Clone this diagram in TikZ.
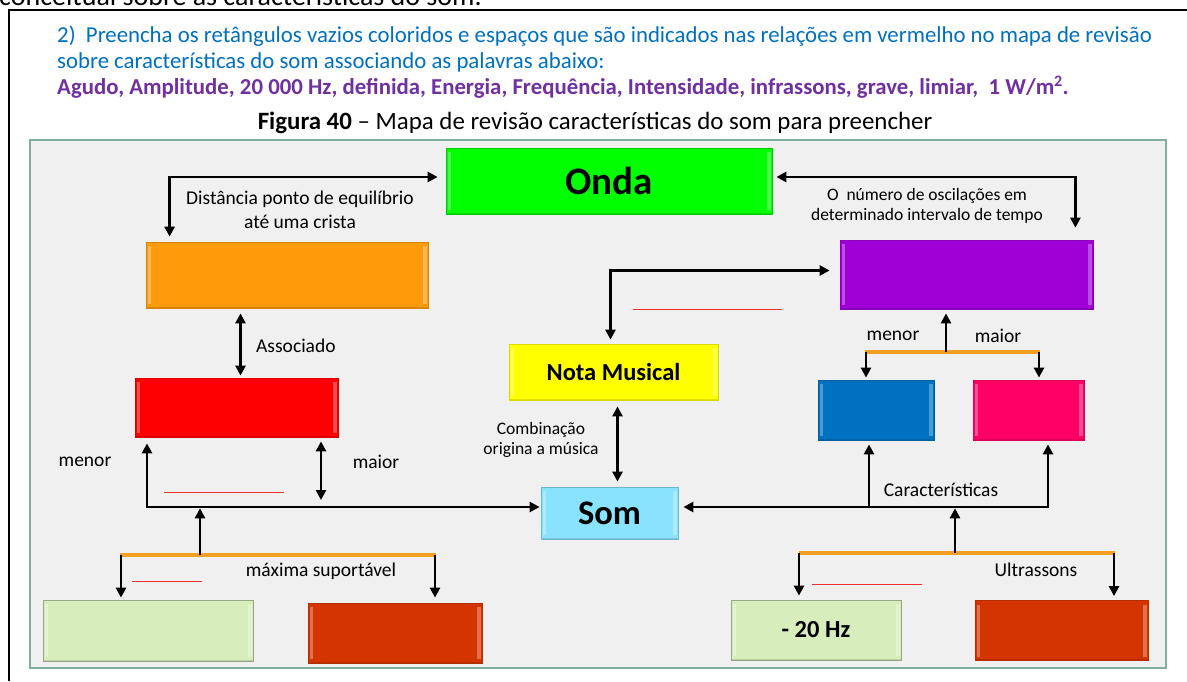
\documentclass[tikz,border=0pt]{standalone}
\usepackage{fontspec}
\setmainfont{Carlito}
\usetikzlibrary{arrows.meta}
\definecolor{hblue}{HTML}{0070C0}
\definecolor{hpurple}{HTML}{7030A0}
\definecolor{panelgray}{HTML}{F0F0F0}
\definecolor{panelborder}{HTML}{7FB09F}
\definecolor{cgreen}{HTML}{00FF00}
\definecolor{corange}{HTML}{FF9A0A}
\definecolor{cred}{HTML}{FF0000}
\definecolor{cyellow}{HTML}{FFFF00}
\definecolor{cpurple}{HTML}{9E00D6}
\definecolor{cblue}{HTML}{0070C0}
\definecolor{cpink}{HTML}{FF0066}
\definecolor{csom}{HTML}{89E3FF}
\definecolor{clgreen}{HTML}{D8EDBC}
\definecolor{cdorange}{HTML}{D43500}
\definecolor{barorange}{HTML}{F2A024}
\definecolor{blankred}{HTML}{F03030}
\begin{document}
\begin{tikzpicture}[x=1pt,y=-1pt,
  lbl/.style={inner sep=0pt, font=\fontsize{19.5}{24}\selectfont, align=center},
  sml/.style={inner sep=0pt, font=\fontsize{17.5}{20}\selectfont, align=center},
  hdr/.style={anchor=base west, inner sep=0pt, font=\fontsize{22.8}{26}\selectfont},
  bevel/.style={path picture={
    \fill[white,opacity=0.3] ([xshift=1.5pt,yshift=-4pt]path picture bounding box.north west) rectangle ([xshift=5pt,yshift=4pt]path picture bounding box.south west);
    \fill[white,opacity=0.3] ([xshift=-5pt,yshift=-4pt]path picture bounding box.north east) rectangle ([xshift=-1.5pt,yshift=4pt]path picture bounding box.south east);
    \draw[black,opacity=0.12,line width=3pt] (path picture bounding box.south west) -- (path picture bounding box.south east);
  }},
  box/.style={rectangle, inner sep=0pt, line width=0.8pt, bevel},
  conn/.style={line width=2.6pt, -{Triangle[length=10pt,width=10pt]}},
  conn2/.style={line width=2.6pt, {Triangle[length=10pt,width=10pt]}-{Triangle[length=10pt,width=10pt]}},
  bar/.style={line width=3.2pt, draw=barorange},
  blank/.style={line width=1pt, draw=blankred},
]
\useasboundingbox (0,0) rectangle (1187,681);
\fill[white] (0,0) rectangle (1187,681);

% cut-off line at the very top
\node[anchor=base west, inner sep=0pt, font=\fontsize{28}{30}\selectfont] (cut) at (-1,5) {conceitual sobre as características do som.};

% outer frame
\draw[line width=2pt] (9,681) -- (9,10) -- (1187,10);

% header
\node[hdr, text=hblue] (h1) at (57,42) {2)\ \ Preencha os retângulos vazios coloridos e espaços que são indicados nas relações em vermelho no mapa de revisão};
\node[hdr, text=hblue] (h2) at (57,68.5) {sobre características do som associando as palavras abaixo:};
\node[hdr, text=hpurple, font=\bfseries\fontsize{22.8}{26}\selectfont] (h3) at (57,94) {Agudo, Amplitude, 20 000 Hz, definida, Energia, Frequência, Intensidade, infrassons, grave, limiar,\ \ 1 W/m\textsuperscript{2}.};
\node[anchor=base, inner sep=0pt, font=\fontsize{24.9}{28}\selectfont] (fig) at (595,129) {\textbf{Figura 40} – Mapa de revisão características do som para preencher};

% panel
\node[draw=panelborder, fill=panelgray, line width=1.2pt, minimum width=1136pt, minimum height=528pt, inner sep=0pt] (panel) at (598,404) {};

% boxes
\node[box, fill=cgreen, draw=cgreen!80!black, minimum width=326pt, minimum height=66pt, font=\bfseries\fontsize{39}{40}\selectfont] (onda) at (609,181) {Onda};
\node[box, fill=corange, draw=corange!85!black, minimum width=282pt, minimum height=66pt] (orange) at (287,275) {};
\node[box, fill=cred, draw=cred!85!black, minimum width=203pt, minimum height=59pt] (red) at (236.5,407.5) {};
\node[box, fill=cyellow, draw=cyellow!85!black, minimum width=209pt, minimum height=56pt, font=\bfseries\fontsize{24.5}{26}\selectfont] (nota) at (613.5,372) {Nota Musical};
\node[box, fill=cpurple, draw=cpurple!85!black, minimum width=253pt, minimum height=69pt] (purple) at (966.5,274.5) {};
\node[box, fill=cblue, draw=cblue!85!black, minimum width=116pt, minimum height=60pt] (blue) at (876,410) {};
\node[box, fill=cpink, draw=cpink!85!black, minimum width=111pt, minimum height=60pt] (pink) at (1028.5,410) {};
\node[box, fill=csom, draw=csom!80!black, minimum width=137pt, minimum height=52pt, font=\bfseries\fontsize{34.5}{36}\selectfont] (som) at (609.5,513) {Som};
\node[box, fill=clgreen, draw=clgreen!70!black, minimum width=210pt, minimum height=61pt] (lg1) at (148,630.5) {};
\node[box, fill=cdorange, draw=cdorange!85!black, minimum width=174pt, minimum height=60pt] (do1) at (395,633) {};
\node[box, fill=clgreen, draw=clgreen!70!black, minimum width=170pt, minimum height=60pt, font=\bfseries\fontsize{24.5}{26}\selectfont] (lg2) at (816,630) {- 20 Hz};
\node[box, fill=cdorange, draw=cdorange!85!black, minimum width=173pt, minimum height=60pt] (do2) at (1061.5,630.5) {};

% labels
\node[lbl] (dist) at (300,210) {Distância ponto de equilíbrio\\até uma crista};
\node[sml] (osc) at (927,206) {O\ \ número de oscilações em\\determinado intervalo de tempo};
\node[lbl, anchor=west] (assoc) at (256,346) {Associado};
\node[sml] (comb) at (541,440) {Combinação\\origina a música};
\node[lbl] (menorL) at (85,462) {menor};
\node[lbl] (maiorL) at (376,462) {maior};
\node[lbl] (maxs) at (321,571) {máxima suportável};
\node[lbl] (menorR) at (893,336) {menor};
\node[lbl] (maiorR) at (998,336) {maior};
\node[lbl] (carac) at (941,490) {Características};
\node[lbl] (ultra) at (1036,570) {Ultrassons};

% junction coordinates
\coordinate (jl) at (147,507);
\coordinate (jm) at (321,507);
\coordinate (b1u) at (200,555);
\coordinate (b1l) at (120,555);
\coordinate (b1r) at (436,555);
\coordinate (b2u) at (946,352);
\coordinate (b2l) at (865,352);
\coordinate (b2r) at (1040,352);
\coordinate (jr) at (1048,507);
\coordinate (jb) at (869,507);
\coordinate (b3u) at (955,553);
\coordinate (b3l) at (799,553);
\coordinate (b3r) at (1115,553);

% connectors
\draw[conn2, shorten <=5pt, shorten >=8pt] ([xshift=24pt]orange.north west) |- ([yshift=4pt]onda.west);
\draw[conn2, shorten <=4pt, shorten >=12pt] ([yshift=4pt]onda.east) -| ([xshift=-18pt]purple.north east);
\draw[conn2, shorten <=5pt, shorten >=2pt] ([xshift=4pt]orange.south -| red.north) -- ([xshift=4pt]red.north);
\draw[conn2, shorten <=4pt, shorten >=10pt] ([xshift=-3pt]nota.north) |- ([yshift=4pt]purple.west);
\draw[conn2, shorten <=6pt, shorten >=5pt] ([xshift=4pt]nota.south) -- ([xshift=4pt]nota.south |- som.north);
\draw[conn2, shorten <=6pt, shorten >=1pt] (jl |- red.south) -- (jl) -- (jl -| som.west);
\draw[conn2, shorten <=4pt, shorten >=7pt] (jm |- red.south) -- (jm);
\draw[bar] (b1l) -- (b1r);
\draw[conn, shorten >=1.3pt] (b1u) -- (b1u |- jl);
\draw[conn, shorten >=2pt] ([xshift=1pt]b1l) -- ([xshift=1pt]b1l |- lg1.north);
\draw[conn, shorten >=5pt] ([xshift=-1pt]b1r) -- ([xshift=-1pt]b1r |- do1.north);
\draw[bar] (b2l) -- (b2r);
\draw[conn, shorten >=4pt] (b2u) -- (b2u |- purple.south);
\draw[conn, shorten >=2pt] ([xshift=1pt]b2l) -- ([xshift=1pt]b2l |- blue.north);
\draw[conn, shorten >=2pt] ([xshift=-1pt]b2r) -- ([xshift=-1pt]b2r |- pink.north);
\draw[conn2, shorten <=4pt, shorten >=5pt] (jr |- pink.south) -- (jr) -- (jr -| som.east);
\draw[conn, shorten >=4pt] (jb) -- (jb |- blue.south);
\draw[bar] (b3l) -- (b3r);
\draw[conn, shorten >=1.3pt] (b3u) -- (b3u |- jr);
\draw[conn, shorten >=4pt] (b3l) -- (b3l |- lg2.north);
\draw[conn, shorten >=4pt] ([xshift=-1pt]b3r) -- ([xshift=-1pt]b3r |- do2.north);

% blanks to fill
\draw[blank] (633,309) -- (782,309);
\draw[blank] (164,492) -- (284,492);
\draw[blank] (132,581) -- (202,581);
\draw[blank] (812,584) -- (922,584);
\end{tikzpicture}
\end{document}
